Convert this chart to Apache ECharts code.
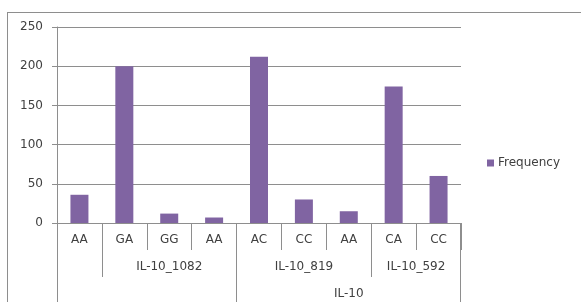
<!DOCTYPE html>
<html>
<head>
<meta charset="utf-8">
<script src="https://cdn.jsdelivr.net/npm/echarts@6/dist/echarts.min.js"></script>
<style>
  html, body { margin: 0; padding: 0; background: #fff; overflow: hidden; }
  #wrap { position: relative; width: 581px; height: 302px; overflow: hidden; }
  #chart { width: 581px; height: 302px; }
  /* chart-area frame: only its left and top edges fall inside the picture */
  #frame {
    position: absolute; left: 7px; top: 12px; width: 700px; height: 400px;
    border-left: 1px solid #8e8e8e; border-top: 1px solid #8e8e8e;
    pointer-events: none;
  }
</style>
</head>
<body>
<div id="wrap">
  <div id="chart"></div>
  <div id="frame"></div>
</div>
<script>
// genotype on the first row, gene and family on the rows below
const categories = ['AA', 'GA', 'GG', 'AA', 'AC', 'CC', 'AA', 'CA', 'CC'];
const frequency = [36, 200, 12, 7, 212, 30, 15, 174, 60];
const genes = [
    { name: 'IL-10_1082', from: 1, to: 4 },
    { name: 'IL-10_819', from: 4, to: 7 },
    { name: 'IL-10_592', from: 7, to: 9 }
];
const families = [
    { name: 'IL-10', from: 4, to: 9 }
];
const yMin = 0, yMax = 250, yStep = 50;

const lineColor = '#8e8e8e';
const textColor = '#404040';
const fontFamily = 'DejaVu Sans';

// a group row: half-slot category axis, label at the span centre, ticks at inner span edges
function groupAxis(groups, offset, tickLen) {
    const n = categories.length;
    const slots = [];
    for (let i = 0; i <= 2 * n; i++) slots.push('');
    const ticks = new Set();
    groups.forEach(g => {
        slots[g.from + g.to] = g.name;
        if (g.from > 0) ticks.add(2 * g.from);
        if (g.to < n) ticks.add(2 * g.to);
    });
    return {
        type: 'category',
        position: 'bottom',
        offset: offset,
        boundaryGap: false,
        data: slots,
        axisLine: { show: false },
        axisTick: {
            show: true,
            length: tickLen,
            interval: (i) => ticks.has(i),
            lineStyle: { color: lineColor }
        },
        axisLabel: {
            interval: (i) => slots[i] !== '',
            margin: 11,
            color: textColor,
            fontFamily,
            fontSize: 12
        },
        splitLine: { show: false },
        splitArea: { show: false }
    };
}

const chart = echarts.init(document.getElementById('chart'));

chart.setOption({
    backgroundColor: '#fff',
    animation: false,
    grid: { left: 57, right: 120, top: 27, bottom: 79 },
    legend: {
        data: ['Frequency'],
        left: 482,
        top: 152,
        icon: 'rect',
        itemWidth: 7,
        itemHeight: 7,
        textStyle: { color: textColor, fontFamily, fontSize: 12, padding: [0, 0, 0, -1] }
    },
    xAxis: [
        {
            type: 'category',
            position: 'bottom',
            data: categories,
            axisLine: { lineStyle: { color: lineColor } },
            axisTick: { show: true, interval: 0, length: 27, lineStyle: { color: lineColor } },
            axisLabel: { interval: 0, margin: 11, color: textColor, fontFamily, fontSize: 12 },
            splitLine: { show: false }
        },
        groupAxis(genes, 27, 27),
        groupAxis(families, 54, 30)
    ],
    yAxis: {
        type: 'value',
        min: yMin,
        max: yMax,
        interval: yStep,
        axisLine: { show: true, lineStyle: { color: lineColor } },
        axisTick: { show: true, length: 5, lineStyle: { color: lineColor } },
        axisLabel: { margin: 14, color: textColor, fontFamily, fontSize: 12 },
        splitLine: { lineStyle: { color: lineColor } }
    },
    series: [{
        name: 'Frequency',
        type: 'bar',
        xAxisIndex: 0,
        data: frequency,
        barWidth: 18,
        itemStyle: { color: '#8064a2' }
    }]
});

// outer left/right edges of the label table, placed through the axis scales
const n = categories.length;
const xLeft = Math.round(chart.convertToPixel({ xAxisIndex: 1 }, 0)) + 0.5;
const xRight = Math.round(chart.convertToPixel({ xAxisIndex: 1 }, 2 * n)) - 0.5;
const yBase = chart.convertToPixel({ yAxisIndex: 0 }, yMin);
chart.setOption({
    graphic: [xLeft, xRight].map(x => ({
        type: 'line',
        silent: true,
        shape: { x1: x, y1: yBase, x2: x, y2: yBase + 100 },
        style: { stroke: lineColor, lineWidth: 1 }
    }))
});
</script>
</body>
</html>
